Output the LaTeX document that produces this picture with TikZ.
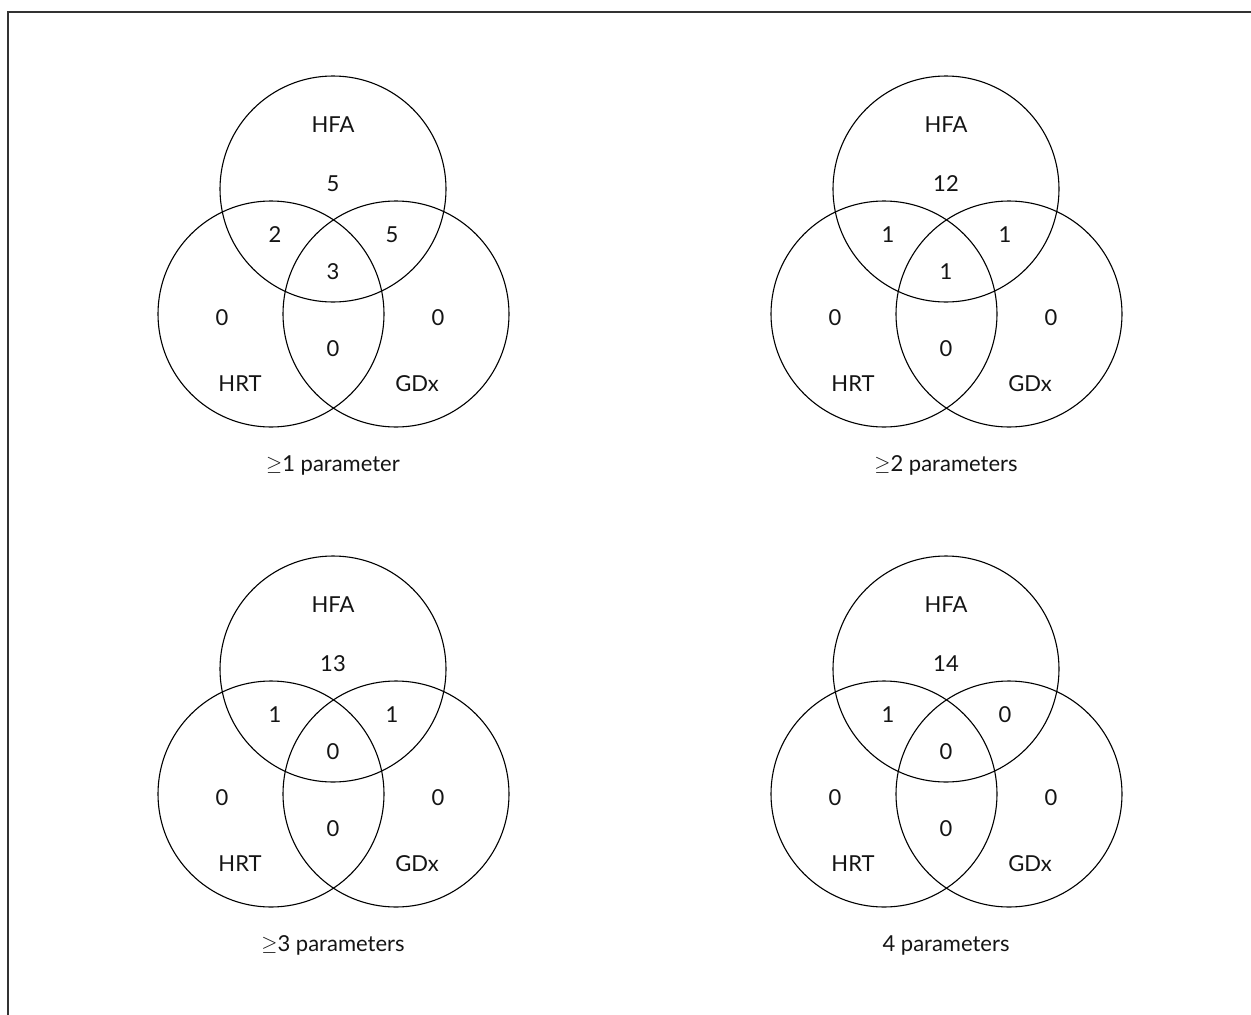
\documentclass[tikz,border=0pt]{standalone}
\usepackage{fontspec}
\setmainfont{Lato}
\newcommand\geqsym{\raisebox{0.05ex}{$\geq$}}
\begin{document}
\begin{tikzpicture}[x=1pt,y=-1pt,
  vcirc/.style={draw=black,line width=1.1pt},
  vtext/.style={font=\fontsize{22}{26}\selectfont,text=black!92,inner sep=0pt,anchor=center},
  frameline/.style={draw=black!80,line width=1.6pt}]
\useasboundingbox (0,0) rectangle (1251,1015);
\coordinate (fb) at (8,1015);
\coordinate (fc) at (8,12);
\coordinate (fr) at (1251,12);
\draw[frameline] (fb) -- (fc) -- (fr);
\newcommand\vennpanel[8]{%
\begin{scope}[shift={#2}]
  \draw[vcirc] (333,189) circle (113);
  \draw[vcirc] (271,314) circle (113);
  \draw[vcirc] (396,314) circle (113);
  \node[vtext] (#1hfa) at (333,125) {HFA};
  \node[vtext] (#1top) at (333,184) {#3};
  \node[vtext] (#1lp) at (275,235) {#4};
  \node[vtext] (#1rp) at (392,235) {#5};
  \node[vtext] (#1ctr) at (333,272) {#6};
  \node[vtext] (#1lo) at (222,318) {0};
  \node[vtext] (#1ro) at (438,318) {0};
  \node[vtext] (#1bp) at (333,349) {#7};
  \node[vtext] (#1hrt) at (240,384) {HRT};
  \node[vtext] (#1gdx) at (417,384) {GDx};
  \node[vtext] (#1cap) at (333,465) {#8};
\end{scope}}
\vennpanel{a}{(0,0)}{5}{2}{5}{3}{0}{\geqsym1 parameter}
\vennpanel{b}{(613,0)}{12}{1}{1}{1}{0}{\geqsym2 parameters}
\vennpanel{c}{(0,480)}{13}{1}{1}{0}{0}{\geqsym3 parameters}
\vennpanel{d}{(613,480)}{14}{1}{0}{0}{0}{4 parameters}
\end{tikzpicture}
\end{document}
